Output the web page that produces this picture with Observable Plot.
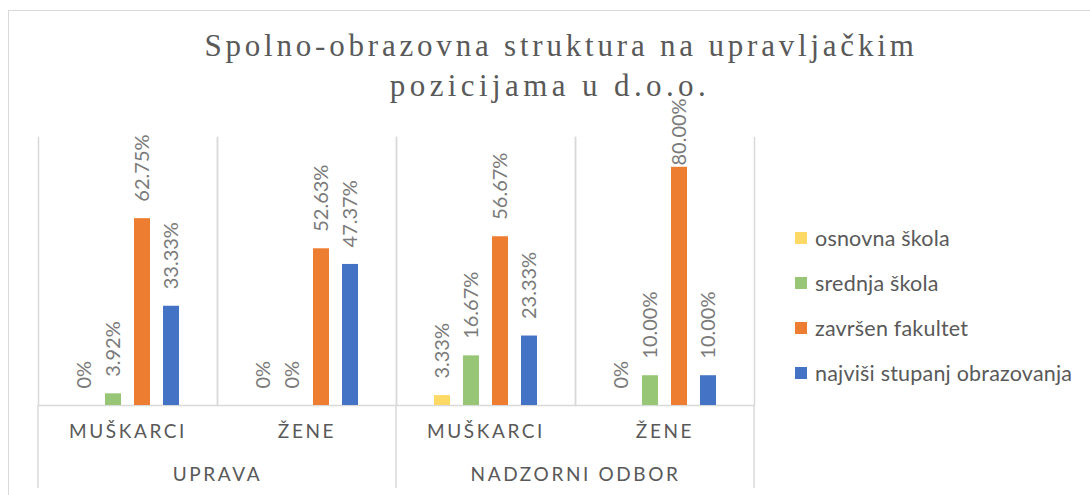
<!DOCTYPE html>
<html>
<head>
<meta charset="utf-8">
<script src="https://cdn.jsdelivr.net/npm/d3@7"></script>
<script src="https://cdn.jsdelivr.net/npm/@observablehq/plot@0.6"></script>
<style>
  html, body { margin: 0; padding: 0; background: #fff; overflow: hidden; }
  #wrap { position: relative; width: 1090px; height: 495px; overflow: hidden; }
  #border { position: absolute; left: 8px; top: 10px; width: 1200px; height: 600px;
            border-left: 1.5px solid #d9d9d9; border-top: 1.5px solid #d9d9d9; }
  #title { position: absolute; left: 0; top: 26px; width: 1122px; text-align: center;
           font-family: "Liberation Serif", "DejaVu Serif", serif; font-size: 31px;
           letter-spacing: 3.8px; line-height: 40px; color: #595959; }
  #title .l2 { position: relative; left: -11px; letter-spacing: 4.4px; }
  #legend { position: absolute; left: 795px; top: 226px; font-family: Lato, sans-serif;
            font-size: 21.5px; letter-spacing: 0.2px; color: #595959; }
  #legend .item { display: flex; align-items: center; height: 24px; margin-bottom: 21px; white-space: nowrap; }
  #legend .sw { width: 12px; height: 12px; margin-right: 8px; }
  #chart { position: absolute; left: 0; top: 0; }
  text[aria-label="category-label"] { letter-spacing: 2.6px; }
</style>
</head>
<body>
<div id="wrap">
  <div id="border"></div>
  <div id="chart"></div>
  <div id="title">Spolno-obrazovna struktura na upravljačkim<br><span class="l2">pozicijama u d.o.o.</span></div>
  <div id="legend"></div>
</div>
<script>
// ---- data ----
const groups = ["UPRAVA", "UPRAVA", "NADZORNI ODBOR", "NADZORNI ODBOR"];
const genders = ["MUŠKARCI", "ŽENE", "MUŠKARCI", "ŽENE"];
const series = ["osnovna škola", "srednja škola", "završen fakultet", "najviši stupanj obrazovanja"];
const osnovna = [0, 0, 3.33, 0];
const srednja = [3.92, 0, 16.67, 10.00];
const fakultet = [62.75, 52.63, 56.67, 80.00];
const najvisi = [33.33, 47.37, 23.33, 10.00];
const colors = ["#FFD966", "#96C676", "#ED7D31", "#4472C4"];

const seriesValues = [osnovna, srednja, fakultet, najvisi];
const keys = groups.map((g, i) => g + "|" + genders[i]);
const rows = [];
keys.forEach((k, i) => series.forEach((s, j) => rows.push({key: k, series: s, value: seriesValues[j][i]})));
const subRows = keys.map((k, i) => ({key: k, gender: genders[i]}));
const groupNames = Array.from(new Set(groups));
const groupRows = groupNames.map(g => ({key: keys[groups.indexOf(g)], group: g}));
const fmt = v => v === 0 ? "0%" : v.toFixed(2) + "%";

// layout
const W = 1090, H = 495, mT = 137, mB = 90, mL = 38, mR = 336;
const yMax = 90;
const unitsPerPx = yMax / (H - mT - mB);
const labelGap = 17 * unitsPerPx;
const labelLen = 62 * unitsPerPx;
const labelCeil = (H - mB - 103) * unitsPerPx;
const labelPos = v => Math.min(v + labelGap, labelCeil - labelLen);

const grid = "#d9d9d9";
const plot = Plot.plot({
  width: W,
  height: H,
  marginTop: mT,
  marginBottom: mB,
  marginLeft: mL,
  marginRight: mR,
  style: {fontFamily: "Lato, sans-serif", background: "transparent"},
  fx: {domain: keys, padding: 0, axis: null, label: null},
  x: {domain: series, paddingInner: 0.45, paddingOuter: 1.21, axis: null},
  y: {domain: [0, yMax], axis: null},
  color: {domain: series, range: colors},
  marks: [
    Plot.frame({anchor: "left", stroke: grid, strokeWidth: 1.5}),
    Plot.frame({anchor: "right", stroke: grid, strokeWidth: 1.5}),
    Plot.ruleY([0], {stroke: grid, strokeWidth: 1.5}),
    Plot.barY(rows, {fx: "key", x: "series", y: "value", fill: "series"}),
    Plot.text(rows, {fx: "key", x: "series", y: d => labelPos(d.value), text: d => fmt(d.value), rotate: -90,
      textAnchor: "start", fontSize: 20, fill: "#7a7a7a"}),
    Plot.text(subRows, {fx: "key", text: "gender", frameAnchor: "bottom", dy: 32, fontSize: 19,
      fill: "#595959", ariaLabel: () => "category-label"}),
    Plot.text(groupRows, {fx: "key", text: "group", frameAnchor: "bottom-right", dy: 75, fontSize: 19,
      textAnchor: "middle", fill: "#595959", ariaLabel: () => "category-label"})
  ]
});
document.getElementById("chart").appendChild(plot);

// group separators below the baseline, positioned with Plot's own scales
const fxs = plot.scale("fx");
const ys = plot.scale("y");
const y0 = ys.apply(0);
const edges = [];
groupNames.forEach(g => {
  const first = keys[groups.indexOf(g)];
  edges.push(fxs.apply(first));
});
edges.push(fxs.apply(keys[keys.length - 1]) + fxs.bandwidth);
d3.select(plot).append("g").selectAll("line").data(edges).join("line")
  .attr("x1", d => d).attr("x2", d => d).attr("y1", y0).attr("y2", y0 + 83)
  .attr("stroke", grid).attr("stroke-width", 1.5);

// legend
const legend = d3.select("#legend");
series.forEach((s, i) => {
  const it = legend.append("div").attr("class", "item");
  it.append("div").attr("class", "sw").style("background", colors[i]);
  it.append("span").text(s);
});
</script>
</body>
</html>
